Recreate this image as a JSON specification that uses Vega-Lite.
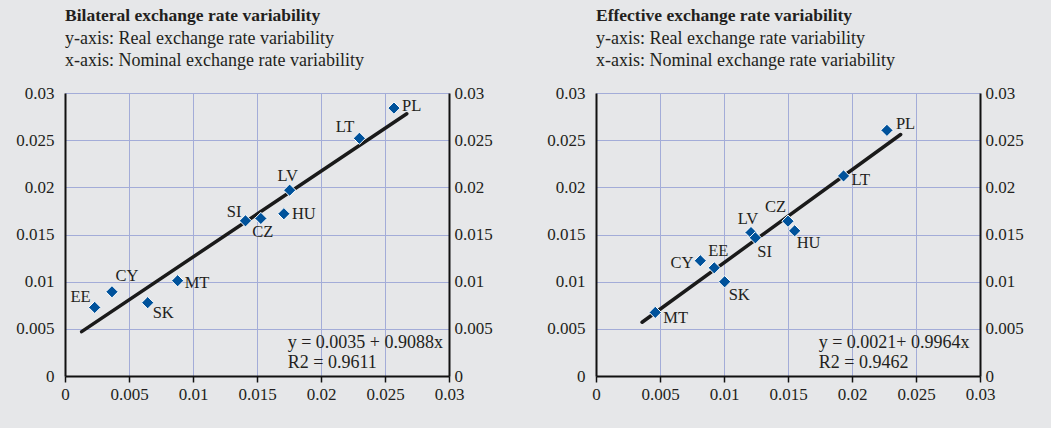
{
  "$schema": "https://vega.github.io/schema/vega-lite/v6.json",
  "background": "#e6e7e9",
  "padding": {"left": 15, "top": 6, "right": 28, "bottom": 27},
  "spacing": 53,
  "datasets": {
    "bilat": [
      {"country": "PL", "x": 0.0257, "y": 0.0284},
      {"country": "LT", "x": 0.0230, "y": 0.0252},
      {"country": "LV", "x": 0.01755, "y": 0.0197},
      {"country": "HU", "x": 0.0171, "y": 0.0172},
      {"country": "CZ", "x": 0.0153, "y": 0.0167},
      {"country": "SI", "x": 0.0141, "y": 0.01645},
      {"country": "MT", "x": 0.0088, "y": 0.0101},
      {"country": "SK", "x": 0.00646, "y": 0.00777},
      {"country": "CY", "x": 0.00367, "y": 0.00893},
      {"country": "EE", "x": 0.00232, "y": 0.00727}
    ],
    "bilatFit": [
      {"x": 0.0013, "y": 0.0047},
      {"x": 0.0267, "y": 0.0278}
    ],
    "bilatEq": [
      {"x": 0.0174, "y": 0.00346, "text": "y = 0.0035 + 0.9088x"},
      {"x": 0.0174, "y": 0.00134, "text": "R2 = 0.9611"}
    ],
    "eff": [
      {"country": "PL", "x": 0.02273, "y": 0.02604},
      {"country": "LT", "x": 0.01934, "y": 0.02121},
      {"country": "CZ", "x": 0.0150, "y": 0.01641},
      {"country": "HU", "x": 0.01552, "y": 0.01539},
      {"country": "LV", "x": 0.01211, "y": 0.01521},
      {"country": "SI", "x": 0.01245, "y": 0.01465},
      {"country": "CY", "x": 0.00815, "y": 0.01222},
      {"country": "EE", "x": 0.00924, "y": 0.01147},
      {"country": "SK", "x": 0.01005, "y": 0.00999},
      {"country": "MT", "x": 0.00463, "y": 0.00674}
    ],
    "effFit": [
      {"x": 0.0036, "y": 0.0057},
      {"x": 0.0238, "y": 0.0256}
    ],
    "effEq": [
      {"x": 0.0174, "y": 0.00346, "text": "y = 0.0021+ 0.9964x"},
      {"x": 0.0174, "y": 0.00134, "text": "R2 = 0.9462"}
    ]
  },
  "config": {
    "view": {"stroke": null},
    "font": "Liberation Serif",
    "title": {
      "font": "Liberation Serif",
      "fontSize": 17.5,
      "fontWeight": "bold",
      "color": "#231f20",
      "anchor": "start",
      "frame": "group",
      "subtitleFont": "Liberation Serif",
      "subtitleFontSize": 18,
      "subtitleColor": "#231f20",
      "subtitleLineHeight": 22,
      "subtitlePadding": 6,
      "offset": 14
    },
    "axis": {
      "labelFont": "Liberation Serif",
      "labelFontSize": 17,
      "labelColor": "#231f20",
      "domainColor": "#111111",
      "domainWidth": 2,
      "gridColor": "#a3acd8",
      "gridWidth": 1,
      "gridOpacity": 1,
      "labelFlush": false,
      "labelOverlap": false,
      "title": null
    },
    "axisX": {
      "tickColor": "#111111",
      "tickSize": 6,
      "tickWidth": 1.5,
      "labelPadding": 4
    },
    "axisY": {
      "ticks": false
    }
  },
  "hconcat": [
    {
      "width": 384,
      "height": 283,
      "title": {
        "text": "Bilateral exchange rate variability",
        "subtitle": ["y-axis: Real exchange rate variability", "x-axis: Nominal exchange rate variability"]
      },
      "resolve": {"axis": {"y": "independent"}},
      "layer": [
        {
          "data": {"name": "bilatFit"},
          "mark": {"type": "line", "color": "#1a1a1a", "strokeWidth": 3.5, "strokeCap": "round"},
          "encoding": {
            "x": {"field": "x", "type": "quantitative", "scale": {"domain": [0, 0.03], "nice": false, "zero": false}, "axis": {"grid": true, "values": [0, 0.005, 0.01, 0.015, 0.02, 0.025, 0.03], "labelExpr": "format(datum.value, '~g')"}},
            "y": {"field": "y", "type": "quantitative", "scale": {"domain": [0, 0.03], "nice": false, "zero": false}, "axis": {"orient": "left", "grid": true, "labelPadding": 11, "values": [0, 0.005, 0.01, 0.015, 0.02, 0.025, 0.03], "labelExpr": "format(datum.value, '~g')"}}
          }
        },
        {
          "data": {"name": "bilat"},
          "mark": {"type": "point", "shape": "diamond", "filled": true, "size": 150, "color": "#00529b", "stroke": "#ffffff", "strokeWidth": 1, "opacity": 1},
          "encoding": {
            "x": {"field": "x", "type": "quantitative", "scale": {"domain": [0, 0.03], "nice": false, "zero": false}},
            "y": {"field": "y", "type": "quantitative", "scale": {"domain": [0, 0.03], "nice": false, "zero": false}, "axis": {"orient": "right", "grid": false, "labelPadding": 5, "values": [0, 0.005, 0.01, 0.015, 0.02, 0.025, 0.03], "labelExpr": "format(datum.value, '~g')"}}
          }
        },
        {
          "data": {"name": "bilat"},
          "mark": {
            "type": "text",
            "fontSize": 16.5,
            "color": "#231f20",
            "baseline": "middle",
            "align": {"expr": "['left','right','center','left','center','right','left','left','center','right'][indexof(['PL','LT','LV','HU','CZ','SI','MT','SK','CY','EE'], datum.country)]"},
            "dx": {"expr": "[8,-5,-2,8,2,-4,7,5,15,-4][indexof(['PL','LT','LV','HU','CZ','SI','MT','SK','CY','EE'], datum.country)]"},
            "dy": {"expr": "[-2,-11,-14,0,14,-9,2,10,-16,-10][indexof(['PL','LT','LV','HU','CZ','SI','MT','SK','CY','EE'], datum.country)]"}
          },
          "encoding": {
            "x": {"field": "x", "type": "quantitative", "scale": {"domain": [0, 0.03], "nice": false, "zero": false}},
            "y": {"field": "y", "type": "quantitative", "scale": {"domain": [0, 0.03], "nice": false, "zero": false}, "axis": null},
            "text": {"field": "country"}
          }
        },
        {
          "data": {"name": "bilatEq"},
          "mark": {"type": "text", "fontSize": 18, "color": "#231f20", "align": "left", "baseline": "middle"},
          "encoding": {
            "x": {"field": "x", "type": "quantitative", "scale": {"domain": [0, 0.03], "nice": false, "zero": false}},
            "y": {"field": "y", "type": "quantitative", "scale": {"domain": [0, 0.03], "nice": false, "zero": false}, "axis": null},
            "text": {"field": "text"}
          }
        }
      ]
    },
    {
      "width": 384,
      "height": 283,
      "title": {
        "text": "Effective exchange rate variability",
        "subtitle": ["y-axis: Real exchange rate variability", "x-axis: Nominal exchange rate variability"]
      },
      "resolve": {"axis": {"y": "independent"}},
      "layer": [
        {
          "data": {"name": "effFit"},
          "mark": {"type": "line", "color": "#1a1a1a", "strokeWidth": 3.5, "strokeCap": "round"},
          "encoding": {
            "x": {"field": "x", "type": "quantitative", "scale": {"domain": [0, 0.03], "nice": false, "zero": false}, "axis": {"grid": true, "values": [0, 0.005, 0.01, 0.015, 0.02, 0.025, 0.03], "labelExpr": "format(datum.value, '~g')"}},
            "y": {"field": "y", "type": "quantitative", "scale": {"domain": [0, 0.03], "nice": false, "zero": false}, "axis": {"orient": "left", "grid": true, "labelPadding": 11, "values": [0, 0.005, 0.01, 0.015, 0.02, 0.025, 0.03], "labelExpr": "format(datum.value, '~g')"}}
          }
        },
        {
          "data": {"name": "eff"},
          "mark": {"type": "point", "shape": "diamond", "filled": true, "size": 150, "color": "#00529b", "stroke": "#ffffff", "strokeWidth": 1, "opacity": 1},
          "encoding": {
            "x": {"field": "x", "type": "quantitative", "scale": {"domain": [0, 0.03], "nice": false, "zero": false}},
            "y": {"field": "y", "type": "quantitative", "scale": {"domain": [0, 0.03], "nice": false, "zero": false}, "axis": {"orient": "right", "grid": false, "labelPadding": 5, "values": [0, 0.005, 0.01, 0.015, 0.02, 0.025, 0.03], "labelExpr": "format(datum.value, '~g')"}}
          }
        },
        {
          "data": {"name": "eff"},
          "mark": {
            "type": "text",
            "fontSize": 16.5,
            "color": "#231f20",
            "baseline": "middle",
            "align": {"expr": "['left','left','right','left','center','left','right','center','left','left'][indexof(['PL','LT','CZ','HU','LV','SI','CY','EE','SK','MT'], datum.country)]"},
            "dx": {"expr": "[9,8,-2,2,-3,2,-7,4,4,8][indexof(['PL','LT','CZ','HU','LV','SI','CY','EE','SK','MT'], datum.country)]"},
            "dy": {"expr": "[-6,4,-14,12,-14,14,2,-17,13,6][indexof(['PL','LT','CZ','HU','LV','SI','CY','EE','SK','MT'], datum.country)]"}
          },
          "encoding": {
            "x": {"field": "x", "type": "quantitative", "scale": {"domain": [0, 0.03], "nice": false, "zero": false}},
            "y": {"field": "y", "type": "quantitative", "scale": {"domain": [0, 0.03], "nice": false, "zero": false}, "axis": null},
            "text": {"field": "country"}
          }
        },
        {
          "data": {"name": "effEq"},
          "mark": {"type": "text", "fontSize": 18, "color": "#231f20", "align": "left", "baseline": "middle"},
          "encoding": {
            "x": {"field": "x", "type": "quantitative", "scale": {"domain": [0, 0.03], "nice": false, "zero": false}},
            "y": {"field": "y", "type": "quantitative", "scale": {"domain": [0, 0.03], "nice": false, "zero": false}, "axis": null},
            "text": {"field": "text"}
          }
        }
      ]
    }
  ]
}
